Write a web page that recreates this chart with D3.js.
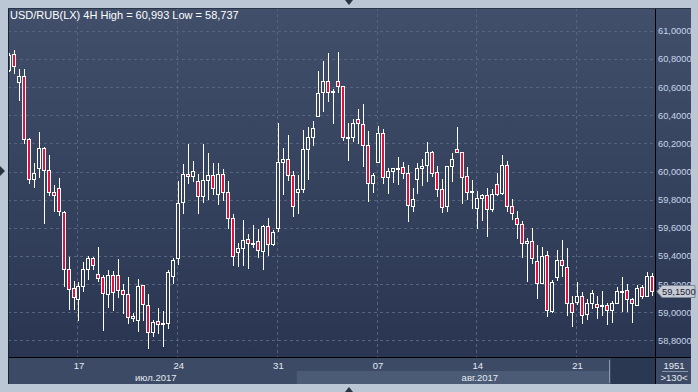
<!DOCTYPE html>
<html>
<head>
<meta charset="utf-8">
<script src="https://cdn.jsdelivr.net/npm/d3@7"></script>
<style>
body { margin: 0; background: #bcc7d6; }
svg { display: block; font-family: "Liberation Sans", Arial, sans-serif; }
</style>
</head>
<body>
<svg id="chart" width="698" height="392"></svg>
<script>
// 4H свечи USD/RUB, 130 баров
var opens = [60.721,60.832,60.638,60.678,60.231,59.945,60.023,60.165,60.009,59.854,
  59.881,59.712,59.305,59.170,59.092,59.185,59.305,59.384,59.274,59.249,
  59.128,59.265,59.265,59.156,59.130,58.957,58.943,59.192,59.050,58.858,
  58.936,58.915,58.922,59.253,59.384,59.781,59.980,59.966,59.930,59.824,
  59.938,59.973,59.838,59.980,59.852,59.668,59.426,59.455,59.518,59.490,
  59.504,59.440,59.611,59.483,59.597,60.065,60.087,59.973,59.852,59.874,
  60.158,60.243,60.392,60.563,60.641,60.563,60.641,60.605,60.240,60.243,
  60.371,60.335,60.186,59.916,60.065,60.271,59.959,60.001,60.023,60.030,
  59.987,59.757,59.945,60.023,60.041,60.136,59.994,59.874,59.753,60.037,
  60.158,60.136,59.966,59.859,59.739,59.810,59.831,59.732,59.909,59.842,
  60.044,59.753,59.668,59.625,59.490,59.504,59.362,59.203,59.405,59.011,
  59.249,59.369,59.320,59.064,59.075,59.114,58.986,59.064,59.057,59.050,
  59.050,59.014,59.064,59.149,59.156,59.092,59.050,59.178,59.114,59.256];
var highs = [60.842,60.863,60.728,60.728,60.235,60.058,60.278,60.174,60.117,59.904,
  59.952,59.719,59.393,59.222,59.217,59.355,59.402,59.395,59.464,59.265,
  59.298,59.293,59.379,59.203,59.249,58.997,59.237,59.195,59.130,58.945,
  59.028,59.009,59.300,59.388,59.933,60.053,60.195,60.072,59.980,60.195,
  60.129,60.060,60.060,60.016,59.930,59.696,59.494,59.656,59.556,59.618,
  59.589,59.620,59.668,59.582,60.344,60.165,60.259,60.004,59.975,60.295,
  60.318,60.359,60.712,60.785,60.840,60.584,60.847,60.610,60.342,60.373,
  60.442,60.477,60.286,59.989,60.323,60.300,60.023,60.026,60.101,60.067,
  60.044,59.881,60.063,60.089,60.207,60.146,60.039,59.945,60.040,60.134,
  60.316,60.140,60.032,59.940,59.862,59.842,59.881,59.874,59.991,60.117,
  60.072,59.807,59.717,59.648,59.526,59.597,59.476,59.466,59.433,59.229,
  59.440,59.514,59.455,59.116,59.213,59.142,59.092,59.156,59.116,59.149,
  59.068,59.078,59.180,59.251,59.201,59.102,59.192,59.192,59.286,59.277];
var lows = [60.707,60.690,60.503,60.193,59.909,59.885,59.956,59.629,59.828,59.715,
  59.686,59.182,59.016,59.016,58.938,59.142,59.227,59.298,59.217,58.869,
  59.028,59.011,59.099,58.986,58.915,58.929,58.862,58.938,58.741,58.827,
  58.846,58.756,58.879,59.203,59.336,59.698,59.909,59.925,59.700,59.774,
  59.800,59.831,59.760,59.793,59.589,59.331,59.324,59.331,59.310,59.455,
  59.384,59.297,59.402,59.471,59.572,59.833,59.933,59.679,59.698,59.845,
  59.942,60.183,60.388,60.425,60.491,60.340,60.560,60.219,60.077,60.212,
  60.197,60.030,59.786,59.849,60.060,59.913,59.838,59.920,59.902,59.949,
  59.641,59.715,59.840,59.899,59.928,59.963,59.821,59.707,59.715,59.925,
  60.132,59.767,59.800,59.736,59.589,59.648,59.537,59.710,59.824,59.835,
  59.715,59.653,59.518,59.384,59.217,59.341,59.092,59.199,58.969,58.997,
  59.224,59.253,58.976,58.893,59.050,58.915,58.943,59.026,58.955,58.972,
  58.908,58.922,59.060,59.000,59.000,58.922,59.046,59.092,59.110,59.114];
var closes = [60.827,60.747,60.678,60.233,59.945,59.989,60.165,60.009,59.852,59.831,
  59.719,59.305,59.163,59.107,59.185,59.305,59.384,59.334,59.249,59.135,
  59.265,59.142,59.156,59.128,58.964,58.974,59.187,59.059,58.858,58.929,
  58.915,58.924,59.284,59.369,59.774,59.980,59.966,60.001,59.824,59.938,
  59.973,59.881,59.980,59.852,59.668,59.395,59.455,59.511,59.490,59.480,
  59.440,59.616,59.483,59.568,60.065,60.087,59.973,59.750,59.874,60.158,
  60.243,60.307,60.555,60.641,60.563,60.570,60.602,60.243,60.247,60.342,
  60.342,60.186,59.916,59.973,60.271,59.959,60.001,60.023,60.025,59.987,
  59.757,59.805,60.023,60.037,60.136,59.987,59.874,59.746,60.037,60.087,
  60.136,59.959,59.854,59.857,59.810,59.831,59.732,59.838,59.838,60.044,
  59.753,59.703,59.625,59.490,59.504,59.384,59.206,59.398,59.014,59.215,
  59.369,59.334,59.064,58.997,59.116,58.979,59.064,59.135,59.036,59.048,
  59.014,59.064,59.149,59.151,59.092,59.064,59.170,59.114,59.256,59.150];

var yTicks = [58.8, 59.0, 59.2, 59.4, 59.6, 59.8, 60.0, 60.2, 60.4, 60.6, 60.8, 61.0];
var weekIdx = [14, 34, 54, 74, 94, 114];
var weekLabels = ["17", "24", "31", "07", "14", "21"];
var monthLabels = ["июл.2017", "авг.2017"];
var monthFirst = [0, 58];
var monthLast = [57, 129];
var titleText = "USD/RUB(LX) 4H  High = 60,993  Low = 58,737";
var totalBars = "1951";
var shownBars = ">130<";

var svg = d3.select("#chart");
var pLeft = 8, pRight = 655, pTop = 8, pBottom = 357, axBottom = 384, outRight = 691;

var x = d3.scaleLinear().domain([0, opens.length - 1]).range([8.7, 651.8]);
var y = d3.scaleLinear().domain([59, 61]).range([312.3, 30.7]);

var defs = svg.append("defs");
var grad = defs.append("linearGradient").attr("id", "bg").attr("gradientUnits", "userSpaceOnUse")
    .attr("x1", 0).attr("y1", pTop).attr("x2", 0).attr("y2", pBottom);
grad.append("stop").attr("offset", "0%").attr("stop-color", "#414f6b");
grad.append("stop").attr("offset", "100%").attr("stop-color", "#2a3651");
defs.append("clipPath").attr("id", "plotclip").append("rect")
    .attr("x", pLeft + 1).attr("y", pTop).attr("width", pRight - pLeft - 1).attr("height", pBottom - pTop);

// рамка
svg.append("rect").attr("width", 698).attr("height", 392).attr("fill", "#bcc7d6");
svg.append("rect").attr("x", pLeft).attr("y", pTop).attr("width", outRight - pLeft).attr("height", pBottom - pTop)
    .attr("fill", "url(#bg)");
svg.append("rect").attr("x", pLeft).attr("y", pBottom).attr("width", outRight - pLeft).attr("height", axBottom - pBottom)
    .attr("fill", "#3c4a65");

// полоса месяцев
svg.append("rect").attr("x", x(monthFirst[1]) - 1).attr("y", 371).attr("width", 610 - x(monthFirst[1]) + 1).attr("height", axBottom - 371)
    .attr("fill", "#4b5a75");
svg.append("rect").attr("x", 611).attr("y", pBottom + 1).attr("width", pRight - 611).attr("height", axBottom - pBottom - 1)
    .attr("fill", "#2b3852");
svg.append("line").attr("x1", 609.5).attr("x2", 609.5).attr("y1", 360).attr("y2", 383).attr("stroke", "#8b97a9");

// сетка
var grid = svg.append("g").attr("stroke", "#56647f").attr("stroke-dasharray", "3,3").attr("stroke-width", 1);
grid.selectAll(".h").data(yTicks).enter().append("line")
    .attr("x1", pLeft).attr("x2", pRight)
    .attr("y1", function(d) { return Math.round(y(d)) + 0.5; })
    .attr("y2", function(d) { return Math.round(y(d)) + 0.5; });
grid.selectAll(".v").data(weekIdx).enter().append("line")
    .attr("y1", pTop).attr("y2", pBottom)
    .attr("x1", function(d) { return Math.round(x(d)) - 0.5; })
    .attr("x2", function(d) { return Math.round(x(d)) - 0.5; });

// свечи
var bars = d3.range(opens.length);
var g = svg.append("g").attr("clip-path", "url(#plotclip)").attr("shape-rendering", "crispEdges");
g.selectAll(".wick").data(bars).enter().append("line")
    .attr("x1", function(i) { return Math.round(x(i)) + 0.5; })
    .attr("x2", function(i) { return Math.round(x(i)) + 0.5; })
    .attr("y1", function(i) { return Math.round(y(highs[i])); })
    .attr("y2", function(i) { return Math.round(y(lows[i])); })
    .attr("stroke", "#ffffff").attr("stroke-width", 1);
g.selectAll(".body").data(bars).enter().append("rect")
    .attr("x", function(i) { return Math.round(x(i)) - 1.5; })
    .attr("width", 3)
    .attr("y", function(i) { return Math.round(y(Math.max(opens[i], closes[i]))) + 0.5; })
    .attr("height", function(i) { return Math.max(1, Math.round(Math.abs(y(opens[i]) - y(closes[i])))); })
    .attr("fill", function(i) { return closes[i] < opens[i] ? "#e4103b" : "url(#bg)"; })
    .attr("stroke", "#ffffff").attr("stroke-width", 1);

// оси
var yAxis = d3.axisRight(y).tickValues(yTicks).tickSize(0).tickPadding(3)
    .tickFormat(function(d) { return d.toFixed(4).replace(".", ","); });
var ya = svg.append("g").attr("transform", "translate(" + pRight + ",0)").call(yAxis);
ya.select(".domain").remove();
ya.selectAll("text").attr("fill", "#c9d5ea").attr("font-size", "9.3px").attr("font-family", "Liberation Sans, Arial, sans-serif");

var xAxis = d3.axisBottom(x).tickValues(weekIdx).tickSize(0).tickPadding(5)
    .tickFormat(function(d, i) { return weekLabels[i]; });
var xa = svg.append("g").attr("transform", "translate(0," + pBottom + ")").call(xAxis);
xa.select(".domain").remove();
xa.selectAll("text").attr("fill", "#e4eaf3").attr("font-size", "9.5px").attr("font-family", "Liberation Sans, Arial, sans-serif");

svg.selectAll(".month").data(monthLabels).enter().append("text")
    .attr("x", function(d, i) { return (x(monthFirst[i]) + x(monthLast[i])) / 2 + 5; })
    .attr("y", 381)
    .attr("text-anchor", "middle").attr("fill", "#e4eaf3").attr("font-size", "9.5px")
    .text(function(d) { return d; });

// границы
svg.append("line").attr("x1", pRight + 0.5).attr("x2", pRight + 0.5).attr("y1", pTop).attr("y2", axBottom).attr("stroke", "#000");
svg.append("line").attr("x1", pLeft).attr("x2", outRight).attr("y1", pBottom + 0.5).attr("y2", pBottom + 0.5).attr("stroke", "#000");
svg.append("line").attr("x1", pLeft + 0.5).attr("x2", pLeft + 0.5).attr("y1", pTop).attr("y2", axBottom).attr("stroke", "#1a2233");
svg.append("line").attr("x1", pLeft).attr("x2", outRight).attr("y1", pTop + 0.5).attr("y2", pTop + 0.5).attr("stroke", "#2a3548");

// счётчик баров
svg.append("text").attr("x", 674).attr("y", 369).attr("text-anchor", "middle").attr("fill", "#e4eaf3").attr("font-size", "9.5px").text(totalBars);
svg.append("line").attr("x1", 662).attr("x2", 688).attr("y1", 371.5).attr("y2", 371.5).attr("stroke", "#8b97a9");
svg.append("text").attr("x", 674).attr("y", 381).attr("text-anchor", "middle").attr("fill", "#e4eaf3").attr("font-size", "9.5px").text(shownBars);

// последняя цена
var last = closes[closes.length - 1];
var ly = Math.round(y(last)) + 0.5;
svg.append("path")
    .attr("d", "M" + (pRight + 2) + "," + ly + " L" + (pRight + 7) + "," + (ly - 6) + " L" + 695 + "," + (ly - 6) +
      " L" + 695 + "," + (ly + 6) + " L" + (pRight + 7) + "," + (ly + 6) + "Z")
    .attr("fill", "#c6ccd6").attr("stroke", "#7d8696");
svg.append("text").attr("x", pRight + 7).attr("y", ly + 3.5).attr("fill", "#1c2230").attr("font-size", "9.3px")
    .text(last.toFixed(4).replace(".", ","));

// заголовок
svg.append("text").attr("x", 10).attr("y", 19).attr("fill", "#ffffff").attr("font-size", "11px").text(titleText);

// маркеры на рамке
svg.append("path").attr("d", "M345,0 L353,0 L349,5 Z").attr("fill", "#2b3240");
svg.append("path").attr("d", "M345,392 L353,392 L349,387 Z").attr("fill", "#2b3240");
svg.append("path").attr("d", "M0,166 L0,176 L5,171 Z").attr("fill", "#2b3240");
</script>
</body>
</html>
